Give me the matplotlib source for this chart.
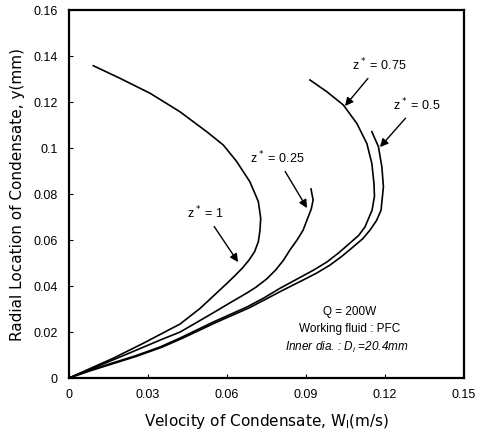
import matplotlib.pyplot as plt
from matplotlib.ticker import FuncFormatter

# velocity (m/s) and radial location (mm)
w_z1 = [0.0092, 0.0194, 0.0308, 0.0421, 0.0523, 0.0586, 0.0637, 0.0687, 0.0719,
        0.0728, 0.0725, 0.0719, 0.0705, 0.0685, 0.0660, 0.0630, 0.0600, 0.0573,
        0.0498, 0.0422, 0.0282, 0.0168, 0.0070, 0.0]
y_z1 = [0.1358, 0.1303, 0.1238, 0.1158, 0.1071, 0.1013, 0.0941, 0.0853, 0.0767,
        0.0694, 0.0640, 0.0593, 0.0550, 0.0515, 0.0480, 0.0445, 0.0412, 0.0383,
        0.0303, 0.0235, 0.0151, 0.0086, 0.0036, 0.0]

w_z025 = [0.0919, 0.0927, 0.0920, 0.0908, 0.0889, 0.0866, 0.0839, 0.0815, 0.0785,
          0.0750, 0.0710, 0.0676, 0.0610, 0.0547, 0.0422, 0.0346, 0.0220, 0.0090, 0.0]
y_z025 = [0.0822, 0.0774, 0.0735, 0.0700, 0.0643, 0.0600, 0.0557, 0.0513, 0.0470,
          0.0430, 0.0395, 0.0370, 0.0326, 0.0283, 0.0200, 0.0165, 0.0104, 0.0042, 0.0]

w_z075 = [0.0915, 0.0979, 0.1042, 0.1093, 0.1131, 0.1150, 0.1158, 0.1160, 0.1151,
          0.1124, 0.1100, 0.1067, 0.1025, 0.0980, 0.0930, 0.0877, 0.0801, 0.0740,
          0.0676, 0.0547, 0.0422, 0.0346, 0.0251, 0.0156, 0.0075, 0.0]
y_z075 = [0.1296, 0.1245, 0.1187, 0.1107, 0.1020, 0.0933, 0.0847, 0.0790, 0.0730,
          0.0657, 0.0620, 0.0587, 0.0545, 0.0505, 0.0470, 0.0437, 0.0390, 0.0348,
          0.0309, 0.0243, 0.0174, 0.0135, 0.0096, 0.0062, 0.0032, 0.0]

w_z05 = [0.1150, 0.1175, 0.1188, 0.1194, 0.1185, 0.1168, 0.1143, 0.1115, 0.1079,
         0.1037, 0.0991, 0.0940, 0.0889, 0.0809, 0.0746, 0.0684, 0.0555, 0.0429,
         0.0353, 0.0258, 0.0163, 0.0080, 0.0]
y_z05 = [0.1071, 0.1006, 0.0919, 0.0832, 0.0730, 0.0685, 0.0643, 0.0605, 0.0570,
         0.0530, 0.0491, 0.0456, 0.0426, 0.0380, 0.0342, 0.0305, 0.0240, 0.0172,
         0.0134, 0.0095, 0.0061, 0.0031, 0.0]

x_ticks = [0, 0.03, 0.06, 0.09, 0.12, 0.15]
y_ticks = [0, 0.02, 0.04, 0.06, 0.08, 0.1, 0.12, 0.14, 0.16]

fig = plt.figure(figsize=(4.78, 4.37), dpi=100)
ax = fig.add_axes([0.1444, 0.135, 0.8263, 0.842])

for w, y in [(w_z1, y_z1), (w_z025, y_z025), (w_z075, y_z075), (w_z05, y_z05)]:
    ax.plot(w, y, color='black', lw=1.2, solid_joinstyle='round')

ax.set_xlim(0, 0.15)
ax.set_ylim(0, 0.16)
ax.set_xticks(x_ticks)
ax.set_yticks(y_ticks)
ax.xaxis.set_major_formatter(FuncFormatter(lambda v, p: '%g' % v))
ax.yaxis.set_major_formatter(FuncFormatter(lambda v, p: '%g' % v))
ax.tick_params(direction='in', length=3, labelsize=9, pad=8)
for lab in ax.get_xticklabels() + ax.get_yticklabels():
    lab.set_family('Liberation Sans')
for s in ax.spines.values():
    s.set_linewidth(1.6)

ax.set_xlabel(r'Velocity of Condensate, W$_\mathregular{l}$(m/s)', fontsize=11, labelpad=8)
ax.set_ylabel('Radial Location of Condensate, y(mm)', fontsize=11, labelpad=6)

# curve labels with arrows
arrow = dict(arrowstyle='-|>', color='black', lw=1.0, mutation_scale=12, shrinkA=2, shrinkB=0)
labels = [
    (r'z$^*$ = 0.75', (0.1177, 0.1360), (0.1048, 0.1183)),
    (r'z$^*$ = 0.5', (0.1322, 0.1187), (0.1181, 0.1004)),
    (r'z$^*$ = 0.25', (0.0790, 0.0957), (0.0904, 0.0739)),
    (r'z$^*$ = 1', (0.0517, 0.0717), (0.0642, 0.0504)),
]
for txt, pos, tip in labels:
    ax.annotate(txt, xy=tip, xytext=pos, ha='center', va='center',
                fontsize=9, family='Liberation Sans', arrowprops=arrow)

ax.text(0.1067, 0.0287, 'Q = 200W', ha='center', va='center', fontsize=8.5, family='Liberation Sans')
ax.text(0.1067, 0.0213, 'Working fluid : PFC', ha='center', va='center', fontsize=8.5, family='Liberation Sans')
ax.text(0.1055, 0.0135, r'Inner dia. : D$_\mathregular{i}$ =20.4mm', ha='center', va='center',
        fontsize=8.5, family='Liberation Sans', style='italic')

fig.savefig('out.png', dpi=100)
